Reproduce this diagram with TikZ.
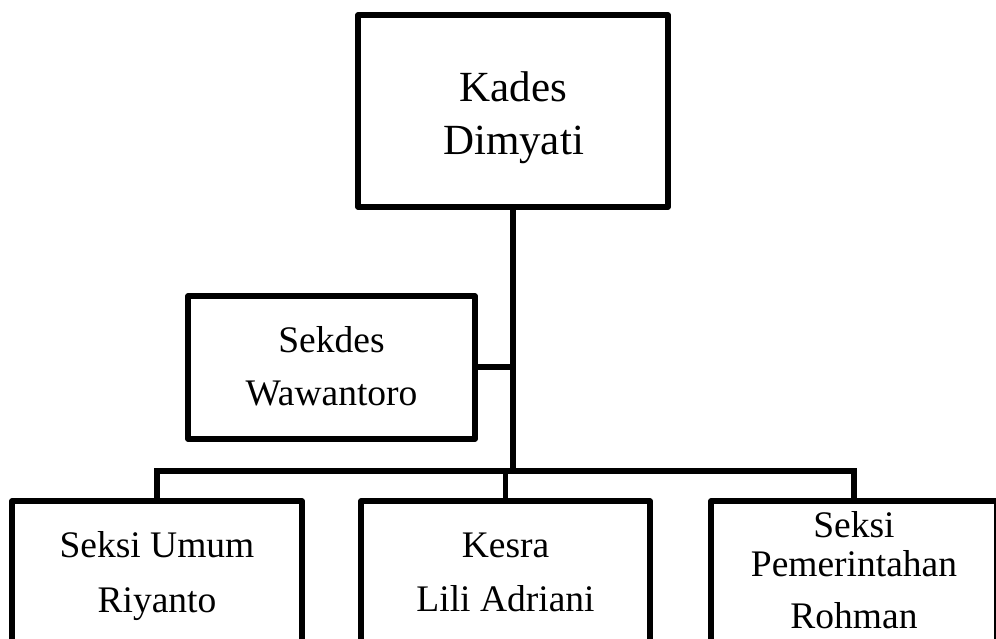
\documentclass[tikz,border=0pt]{standalone}
\usepackage{fontspec}
\setmainfont{Liberation Serif}
\begin{document}
\begin{tikzpicture}[x=1pt,y=-1pt,
  box/.style={draw=black, line width=5.3pt, line join=round, rectangle, inner sep=0pt, outer sep=0pt},
  lbl/.style={anchor=base, inner sep=0pt, font=\fontsize{37.5}{44}\selectfont},
  biglbl/.style={anchor=base, inner sep=0pt, font=\fontsize{43}{50}\selectfont},
  conn/.style={draw=black, line width=5.3pt}]
\useasboundingbox (0,0) rectangle (996,639);
\clip (0,0) rectangle (996,639);
% boxes
\node[box, minimum width=310pt, minimum height=192pt] (kades) at (513,111) {};
\node[box, minimum width=287pt, minimum height=143pt] (sekdes) at (331.5,367.5) {};
\node[box, minimum width=290pt, minimum height=160pt] (umum) at (157,581) {};
\node[box, minimum width=289pt, minimum height=160pt] (kesra) at (505.5,581) {};
\node[box, minimum width=286pt, minimum height=160pt] (pem) at (854,581) {};
% texts
\node[biglbl] (t1) at (513.5,102) {Kades};
\node[biglbl] (t2) at (513.5,155) {Dimyati};
\node[lbl] (t3) at (331.5,352) {Sekdes};
\node[lbl] (t4) at (331.5,405) {Wawantoro};
\node[lbl] (t5) at (157,557) {Seksi Umum};
\node[lbl] (t6) at (157,612) {Riyanto};
\node[lbl] (t7) at (505.5,557) {Kesra};
\node[lbl] (t8) at (505.5,611) {Lili Adriani};
\node[lbl] (t9) at (854,537) {Seksi};
\node[lbl] (t10) at (854,576) {Pemerintahan};
\node[lbl] (t11) at (854,628) {Rohman};
% connectors
\coordinate (busmid) at (513,471);
\coordinate (sekj) at (513,367);
\coordinate (busL) at (157,471);
\coordinate (busM) at (505.5,471);
\coordinate (busR) at (854,471);
\draw[conn] (kades.south -| busmid) -- (busmid);
\draw[conn] (sekdes.east |- sekj) -- (sekj);
\draw[conn, line cap=rect] (busL) -- (busR);
\draw[conn] (busL) -- (umum.north);
\draw[conn] (busM) -- (kesra.north);
\draw[conn] (busR) -- (pem.north);
\end{tikzpicture}
\end{document}
